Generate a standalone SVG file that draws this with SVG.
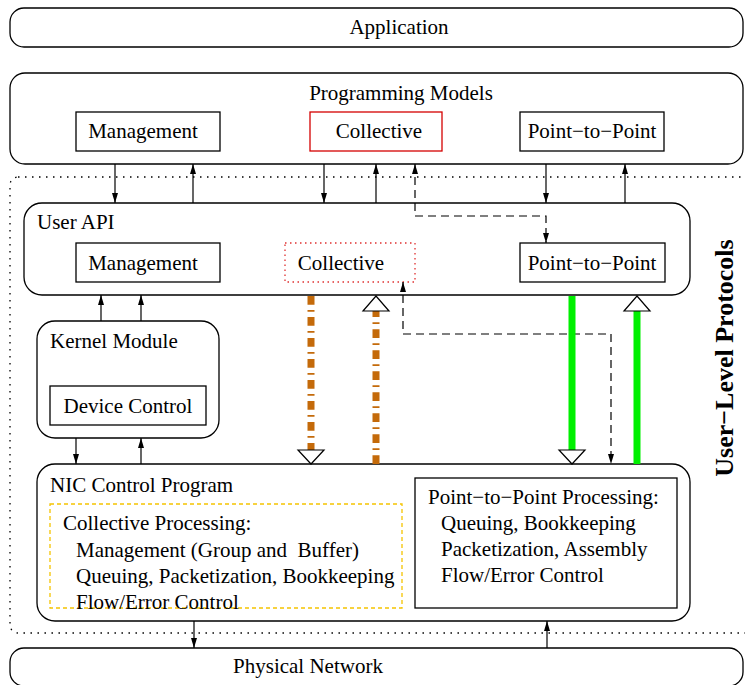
<svg xmlns="http://www.w3.org/2000/svg" width="745" height="685" viewBox="0 0 745 685">
<style>
text{font-family:"Liberation Serif","Times New Roman",serif;font-size:21px;fill:#000}
.c{text-anchor:middle}
.box{fill:none;stroke:#000;stroke-width:1.3}
.ar{stroke:#000;stroke-width:1.2;fill:none}
.ard{stroke:#000;stroke-width:1.2;fill:none;stroke-dasharray:8 5}
.tri{fill:#fff;stroke:#000;stroke-width:1.2}
.org{stroke:#c46a0a;stroke-width:7;fill:none;stroke-dasharray:8.7 5.3 1.7 5.3}
.grn{stroke:#00f000;stroke-width:7;fill:none}
</style>
<defs>
<marker id="ah" markerUnits="userSpaceOnUse" viewBox="0 0 10 6" refX="10" refY="3" markerWidth="10" markerHeight="6" orient="auto-start-reverse">
<path d="M0,0 L10,3 L0,6 Z" fill="#000"/>
</marker>
</defs>
<rect width="745" height="685" fill="#fff"/>
<g id="userlevel">
<rect x="10" y="177" width="760" height="456" rx="8" fill="none" stroke="#000" stroke-width="1.3" stroke-dasharray="1.5 5.5"/>
<text transform="translate(733,358) rotate(-90)" class="c" style="font-weight:bold;font-size:26px">User−Level Protocols</text>
</g>
<g id="application">
<rect class="box" x="10" y="8" width="733" height="39" rx="14"/>
<text class="c" x="399" y="34">Application</text>
</g>
<g id="progmodels">
<rect class="box" x="10" y="73" width="733" height="91" rx="15"/>
<text class="c" x="401" y="100">Programming Models</text>
<g id="pm-mgmt"><rect class="box" x="76" y="112" width="144" height="39"/><text class="c" x="143" y="138">Management</text></g>
<g id="pm-coll"><rect x="310" y="112" width="132" height="39" fill="none" stroke="#d40000" stroke-width="1.3"/><text class="c" x="379" y="138">Collective</text></g>
<g id="pm-p2p"><rect class="box" x="520" y="112" width="144" height="39"/><text class="c" x="592" y="138">Point−to−Point</text></g>
</g>
<g id="userapi">
<rect class="box" x="24" y="203" width="666" height="92" rx="18"/>
<text x="37" y="229">User API</text>
<g id="ua-mgmt"><rect class="box" x="76" y="243" width="144" height="39"/><text class="c" x="143" y="270">Management</text></g>
<g id="ua-coll"><rect x="285" y="243" width="130" height="39" fill="none" stroke="#e03030" stroke-width="1.3" stroke-dasharray="1.5 3.5"/><text class="c" x="341" y="270">Collective</text></g>
<g id="ua-p2p"><rect class="box" x="520" y="243" width="145" height="39"/><text class="c" x="592" y="270">Point−to−Point</text></g>
</g>
<g id="kernel">
<rect class="box" x="37" y="321" width="182" height="117" rx="18"/>
<text x="50" y="348">Kernel Module</text>
<g id="devctl"><rect class="box" x="50" y="386" width="156" height="39"/><text class="c" x="128" y="413">Device Control</text></g>
</g>
<g id="nic">
<rect class="box" x="37" y="464" width="653" height="157" rx="18"/>
<text x="50" y="492">NIC Control Program</text>
<g id="collproc">
<rect x="50" y="504" width="352" height="104" fill="none" stroke="#f5c400" stroke-width="1.3" stroke-dasharray="4 3"/>
<text x="63" y="530">Collective Processing:</text>
<text x="76" y="557" xml:space="preserve">Management (Group and  Buffer)</text>
<text x="76" y="583">Queuing, Packetization, Bookkeeping</text>
<text x="76" y="609">Flow/Error Control</text>
</g>
<g id="p2pproc">
<rect class="box" x="415" y="478" width="262" height="130"/>
<text x="428" y="504">Point−to−Point Processing:</text>
<text x="441" y="530">Queuing, Bookkeeping</text>
<text x="441" y="556">Packetization, Assembly</text>
<text x="441" y="582">Flow/Error Control</text>
</g>
</g>
<g id="physnet">
<rect class="box" x="10" y="648" width="733" height="38" rx="14"/>
<text class="c" x="308" y="673">Physical Network</text>
</g>
<g id="connectors">
<line class="ar" x1="115" y1="164" x2="115" y2="203" marker-end="url(#ah)"/>
<line class="ar" x1="193" y1="203" x2="193" y2="164" marker-end="url(#ah)"/>
<line class="ar" x1="324" y1="164" x2="324" y2="203" marker-end="url(#ah)"/>
<line class="ar" x1="376" y1="203" x2="376" y2="164" marker-end="url(#ah)"/>
<line class="ar" x1="546" y1="164" x2="546" y2="203" marker-end="url(#ah)"/>
<line class="ar" x1="625" y1="203" x2="625" y2="164" marker-end="url(#ah)"/>
<path class="ard" d="M415,164 L415,216 L546,216 L546,243" marker-start="url(#ah)" marker-end="url(#ah)"/>
<line class="ar" x1="101" y1="321" x2="101" y2="295" marker-end="url(#ah)"/>
<line class="ar" x1="141" y1="321" x2="141" y2="295" marker-end="url(#ah)"/>
<line class="ar" x1="76" y1="438" x2="76" y2="464" marker-end="url(#ah)"/>
<line class="ar" x1="141" y1="464" x2="141" y2="438" marker-end="url(#ah)"/>
<path class="ard" d="M403,282 L403,334 L611,334 L611,464" marker-start="url(#ah)" marker-end="url(#ah)"/>
<line class="org" x1="311" y1="296" x2="311" y2="450"/>
<polygon class="tri" points="298,450 324,450 311,464"/>
<line class="org" x1="376" y1="464" x2="376" y2="311"/>
<polygon class="tri" points="363,311 389,311 376,296"/>
<line class="grn" x1="572" y1="296" x2="572" y2="450"/>
<polygon class="tri" points="559,450 585,450 572,464"/>
<line class="grn" x1="637" y1="464" x2="637" y2="311"/>
<polygon class="tri" points="624,311 650,311 637,296"/>
<line class="ar" x1="194" y1="621" x2="194" y2="648" marker-end="url(#ah)"/>
<line class="ar" x1="547" y1="648" x2="547" y2="621" marker-end="url(#ah)"/>
</g>
</svg>
